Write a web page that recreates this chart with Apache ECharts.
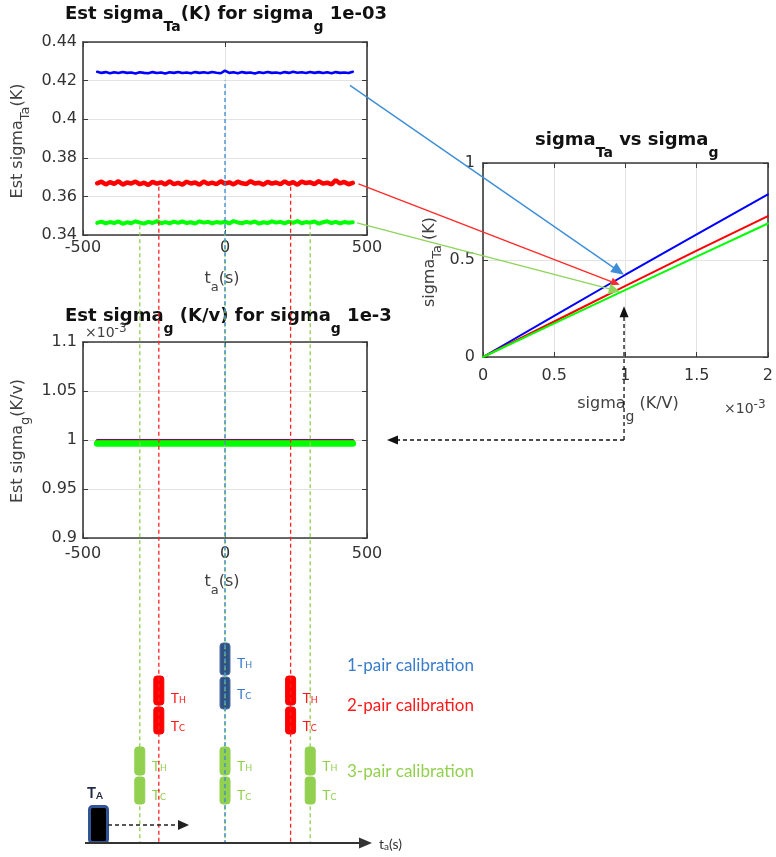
<!DOCTYPE html>
<html><head><meta charset="utf-8">
<script src="https://cdn.jsdelivr.net/npm/echarts@6/dist/echarts.min.js"></script>
<style>html,body{margin:0;padding:0;background:#fff}#c{width:776px;height:857px}</style>
</head><body><div id="c"></div>
<script>
// ---------------- data ----------------
const timeTop = [-450,-435,-420,-405,-390,-375,-360,-345,-330,-315,
  -300,-285,-270,-255,-240,-225,-210,-195,-180,-165,
  -150,-135,-120,-105,-90,-75,-60,-45,-30,-15,
  0,15,30,45,60,75,90,105,120,135,
  150,165,180,195,210,225,240,255,270,285,
  300,315,330,345,360,375,390,405,420,435,450];
const blueTa = [0.4246,0.4240,0.4244,0.4238,0.4243,0.4239,0.4245,0.4240,0.4242,0.4237,
  0.4243,0.4240,0.4238,0.4244,0.4239,0.4242,0.4237,0.4243,0.4240,0.4245,
  0.4239,0.4242,0.4238,0.4244,0.4240,0.4243,0.4239,0.4245,0.4241,0.4238,
  0.4252,0.4240,0.4243,0.4238,0.4244,0.4240,0.4242,0.4237,0.4243,0.4239,
  0.4245,0.4240,0.4242,0.4238,0.4244,0.4240,0.4246,0.4241,0.4243,0.4239,
  0.4245,0.4240,0.4244,0.4239,0.4243,0.4238,0.4244,0.4240,0.4242,0.4239,0.4246];
const redTa = [0.3668,0.3676,0.3662,0.3674,0.3665,0.3679,0.3661,0.3672,0.3667,0.3677,
  0.3663,0.3671,0.3659,0.3675,0.3666,0.3673,0.3662,0.3678,0.3664,0.3670,
  0.3661,0.3676,0.3667,0.3672,0.3660,0.3677,0.3665,0.3671,0.3663,0.3678,
  0.3666,0.3673,0.3662,0.3676,0.3668,0.3664,0.3679,0.3667,0.3671,0.3661,
  0.3675,0.3666,0.3672,0.3663,0.3678,0.3665,0.3674,0.3660,0.3677,0.3669,
  0.3673,0.3664,0.3679,0.3666,0.3671,0.3662,0.3684,0.3667,0.3675,0.3663,0.3670];
const greenTa = [0.3463,0.3469,0.3460,0.3467,0.3462,0.3470,0.3458,0.3466,0.3461,0.3471,
  0.3464,0.3459,0.3468,0.3462,0.3472,0.3461,0.3467,0.3460,0.3469,0.3463,
  0.3470,0.3462,0.3466,0.3459,0.3471,0.3464,0.3468,0.3461,0.3467,0.3463,
  0.3469,0.3460,0.3472,0.3465,0.3461,0.3468,0.3463,0.3470,0.3459,0.3466,
  0.3462,0.3471,0.3464,0.3468,0.3460,0.3469,0.3463,0.3472,0.3461,0.3467,
  0.3464,0.3470,0.3459,0.3466,0.3471,0.3462,0.3468,0.3460,0.3467,0.3463,0.3466];

const timeEst = [-450, 450];
const blueG = [1.0, 1.0];
const redG = [0.9985, 0.9985];
const greenG = [0.9964, 0.9964];

const sigmaG = [0, 0.5, 1, 1.5, 2];
const blueSig = [0, 0.212, 0.424, 0.632, 0.838];
const redSig = [0, 0.183, 0.367, 0.548, 0.726];
const greenSig = [0, 0.173, 0.346, 0.517, 0.688];

const topYTicks = [0.34, 0.44, 0.02];
const midYTicks = [0.9, 1.1, 0.05];
const timeTicks = [-500, 500, 500];
const rightXTicks = [0, 2, 0.5];
const rightYTicks = [0, 1, 0.5];

// calibration instants (s)
const calib1 = [0];
const calib2 = [-233, 231];
const calib3 = [-300, 0, 300];
// arrows: start in top chart (t, sigmaTa), end in right chart (sigma_g, sigmaTa)
const arrowFrom = [[440, 0.4175], [470, 0.3665], [465, 0.3463]];
const arrowTo = [[0.99, 0.424], [0.96, 0.372], [0.96, 0.337]];

// ---------------- helpers ----------------
const zip = (a, b) => a.map((v, i) => [v, b[i]]);
const AX = '#3a3a3a';
const FONT = 'DejaVu Sans';
function xAxes(grid, t, margin) {
  return [
    {gridIndex: grid, type: 'value', position: 'bottom', min: t[0], max: t[1], interval: t[2],
      axisLine: {show: true, onZero: false, lineStyle: {color: AX, width: 1.6}},
      axisTick: {show: true, inside: true, length: 5, lineStyle: {color: AX}},
      axisLabel: {show: true, margin: margin, color: '#333', fontSize: 16, fontFamily: FONT},
      splitLine: {show: true, lineStyle: {color: '#e3e3e3', width: 1}}},
    {gridIndex: grid, type: 'value', position: 'top', min: t[0], max: t[1], interval: t[2],
      axisLine: {show: true, onZero: false, lineStyle: {color: AX, width: 1.6}},
      axisTick: {show: true, inside: true, length: 5, lineStyle: {color: AX}},
      axisLabel: {show: false}, splitLine: {show: false}}
  ];
}
function yAxes(grid, t, margin) {
  return [
    {gridIndex: grid, type: 'value', position: 'left', min: t[0], max: t[1], interval: t[2],
      axisLine: {show: true, onZero: false, lineStyle: {color: AX, width: 1.6}},
      axisTick: {show: true, inside: true, length: 5, lineStyle: {color: AX}},
      axisLabel: {show: true, margin: margin, color: '#333', fontSize: 16, fontFamily: FONT},
      splitLine: {show: true, lineStyle: {color: '#e3e3e3', width: 1}}},
    {gridIndex: grid, type: 'value', position: 'right', min: t[0], max: t[1], interval: t[2],
      axisLine: {show: true, onZero: false, lineStyle: {color: AX, width: 1.6}},
      axisTick: {show: true, inside: true, length: 5, lineStyle: {color: AX}},
      axisLabel: {show: false}, splitLine: {show: false}}
  ];
}
function line(xi, yi, data, color, width, z) {
  return {type: 'line', xAxisIndex: xi, yAxisIndex: yi, data: data, symbol: 'none', showSymbol: false,
    lineStyle: {color: color, width: width, cap: 'round', join: 'bevel'}, z: z || 2, animation: false, silent: true};
}

const chart = echarts.init(document.getElementById('c'), null, {renderer: 'canvas'});
chart.setOption({
  backgroundColor: '#fff',
  animation: false,
  grid: [
    {left: 83, top: 42, width: 284, height: 193},
    {left: 83, top: 342, width: 284, height: 196},
    {left: 483, top: 163, width: 290, height: 194}
  ],
  xAxis: [].concat(xAxes(0, timeTicks, 5), xAxes(1, timeTicks, 8), xAxes(2, rightXTicks, 11)),
  yAxis: [].concat(yAxes(0, topYTicks, 6), yAxes(1, midYTicks, 6), yAxes(2, rightYTicks, 8)),
  series: [
    line(0, 0, zip(timeTop, blueTa), '#0000ff', 2.6),
    line(0, 0, zip(timeTop, redTa), '#ff0000', 4.5),
    line(0, 0, zip(timeTop, greenTa), '#00ff00', 4),
    line(2, 2, zip(timeEst, blueG), '#0000ff', 2, 2),
    line(2, 2, zip(timeEst, redG), '#ff0000', 4, 3),
    line(2, 2, zip(timeEst, greenG), '#00ff00', 6.5, 4),
    line(4, 4, zip(sigmaG, blueSig), '#0000ff', 2),
    line(4, 4, zip(sigmaG, redSig), '#ff0000', 2),
    line(4, 4, zip(sigmaG, greenSig), '#00ff00', 2)
  ]
});

// ---------------- annotations ----------------
const px = (ax, v) => chart.convertToPixel({xAxisIndex: ax}, v);
const py = (ax, v) => chart.convertToPixel({yAxisIndex: ax}, v);
const G = [];
function rich(family, size, weight, color, subSize, subOff) {
  return {
    m: {fontFamily: family, fontSize: size, fontWeight: weight, fill: color, lineHeight: size + 4},
    s: {fontFamily: family, fontSize: subSize, fontWeight: weight, fill: color, lineHeight: subSize + 2, padding: [subOff * 2, 0, 0, 0]},
    p: {fontFamily: family, fontSize: subSize, fontWeight: weight, fill: color, lineHeight: subSize + 2, padding: [0, 0, subOff * 2, 0]}
  };
}
function text(str, x, y, r, align, rot) {
  G.push({type: 'text', x: x, y: y, rotation: rot || 0, z: 40,
    style: {text: str, rich: r, align: align || 'left', verticalAlign: 'middle'}});
}
function arrow(x1, y1, x2, y2, color, w, L, W, dash) {
  const a = Math.atan2(y2 - y1, x2 - x1);
  const bx = x2 - L * Math.cos(a), by = y2 - L * Math.sin(a);
  const nx = -Math.sin(a) * W, ny = Math.cos(a) * W;
  G.push({type: 'line', z: 60, shape: {x1: x1, y1: y1, x2: bx + L * 0.3 * Math.cos(a), y2: by + L * 0.3 * Math.sin(a)},
    style: {stroke: color, lineWidth: w, lineDash: dash || null}});
  G.push({type: 'polygon', z: 61, shape: {points: [[x2, y2], [bx + nx, by + ny], [bx - nx, by - ny]]}, style: {fill: color}});
}

const titleR = rich(FONT, 18, 'bold', '#111', 14, 13);
const axR = rich(FONT, 16, 'normal', '#404040', 13, 8);
const axRx = rich(FONT, 16, 'normal', '#404040', 13, 9);
const axRg = rich(FONT, 16, 'normal', '#404040', 14, 13);

text('{m|Est sigma}{s|Ta}{m|(K) for sigma}{s|g}{m| 1e-03}', 65, 14, titleR);
text('{m|Est sigma}{s|g}{m| (K/v) for sigma}{s|g}{m| 1e-3}', 65, 316, titleR);
text('{m|sigma}{s|Ta}{m| vs sigma}{s|g}', 535, 140, titleR);

text('{m|Est sigma}{s|Ta}{m|(K)}', 18, 141, axR, 'center', Math.PI / 2);
text('{m|t}{s|a}{m|(s)}', 222, 279, axRx, 'center');
text('{m|Est sigma}{s|g}{m|(K/v)}', 18, 441, axR, 'center', Math.PI / 2);
text('{m|t}{s|a}{m|(s)}', 222, 582, axRx, 'center');
text('{m|sigma}{s|Ta}{m| (K)}', 430, 262, axR, 'center', Math.PI / 2);
text('{m|sigma}{s|g}{m| (K/V)}', 628, 404, axRg, 'center');
const expR = rich(FONT, 14, 'normal', '#404040', 12, 4);
text('{m|×10}{p|-3}', 85, 333, expR);
text('{m|×10}{p|-3}', 724, 409, expR);

// calibration dashed lines
const yBottom = 842;
const dash = [4, 3];
calib3.forEach(t => {
  const x = px(0, t);
  G.push({type: 'line', z: 55, shape: {x1: x, y1: py(0, 0.345), x2: x, y2: yBottom},
    style: {stroke: '#92d050', lineWidth: 1.3, lineDash: dash}});
});
calib2.forEach(t => {
  const x = px(0, t);
  G.push({type: 'line', z: 55, shape: {x1: x, y1: py(0, 0.365), x2: x, y2: yBottom},
    style: {stroke: '#ff2020', lineWidth: 1.3, lineDash: dash}});
});
calib1.forEach(t => {
  const x = px(0, t);
  G.push({type: 'line', z: 56, shape: {x1: x, y1: py(0, 0.42), x2: x, y2: yBottom},
    style: {stroke: '#3a8ad8', lineWidth: 1.3, lineDash: dash, lineDashOffset: 3.5}});
});

// arrows between charts
const arrowCol = ['#3d8ed8', '#ff2a2a', '#8fd45a'];
const headL = [13, 9, 11], headW = [5.5, 4, 5.5];
arrowFrom.forEach((f, i) => {
  const x1 = px(0, f[0]), y1 = py(0, f[1]);
  const x2 = px(4, arrowTo[i][0]), y2 = py(4, arrowTo[i][1]);
  arrow(x1, y1, x2, y2, arrowCol[i], 1.4, headL[i], headW[i]);
});
// black dashed arrows
const xv = px(4, 0.99), yh = py(2, 1.0);
arrow(xv, yh, xv, py(4, 0.262), '#111', 1.3, 11, 4.5, [4, 3]);
arrow(xv, yh, 387, yh, '#111', 1.3, 11, 4.5, [4, 3]);

// schematic
const LFONT = 'Lato';
function block(cx, y1, y2, fill, stroke) {
  G.push({type: 'rect', z: 50, shape: {x: cx - 5, y: y1, width: 10, height: y2 - y1, r: 3},
    style: {fill: fill, stroke: stroke || fill, lineWidth: 1}});
}
const tR = c => rich(LFONT, 14, 'normal', c, 9, 2.5);
const rows = [
  {times: calib1, th: [643, 675], tc: [677, 709], lab: [663, 694], fill: '#2f5283', stroke: '#4b70a6', col: '#3a7ccc', name: '1-pair calibration', ny: 666},
  {times: calib2, th: [676, 705], tc: [707, 734], lab: [698, 726], fill: '#ff0000', col: '#ff1a1a', name: '2-pair calibration', ny: 706},
  {times: calib3, th: [747, 775], tc: [777, 804], lab: [766, 795], fill: '#92d050', col: '#92d050', name: '3-pair calibration', ny: 772}
];
rows.forEach(r => {
  r.times.forEach(t => {
    const cx = px(0, t);
    block(cx, r.th[0], r.th[1], r.fill, r.stroke);
    block(cx, r.tc[0], r.tc[1], r.fill, r.stroke);
    text('{m|T}{s|H}', cx + 12, r.lab[0], tR(r.col));
    text('{m|T}{s|C}', cx + 12, r.lab[1], tR(r.col));
  });
  text('{m|' + r.name + '}', 347, r.ny, rich(LFONT, 17, 'normal', r.col, 12, 0));
});
// time axis of schematic
arrow(85, 843, 372, 843, '#333', 2, 13, 5.5);
G.push({type: 'rect', z: 52, shape: {x: 89.5, y: 806.5, width: 18, height: 36, r: 3},
  style: {fill: '#000', stroke: '#2f5597', lineWidth: 3}});
text('{m|T}{s|A}', 87, 793, rich(LFONT, 15, 'bold', '#1f2a44', 10, 2.5));
arrow(108, 825, 189, 825, '#222', 1.4, 11, 5, [4, 3]);
text('{m|t}{s|a}{m|(s)}', 379, 844, rich(LFONT, 14, 'normal', '#333', 10, 3));

chart.setOption({graphic: {elements: G}});
</script></body></html>
